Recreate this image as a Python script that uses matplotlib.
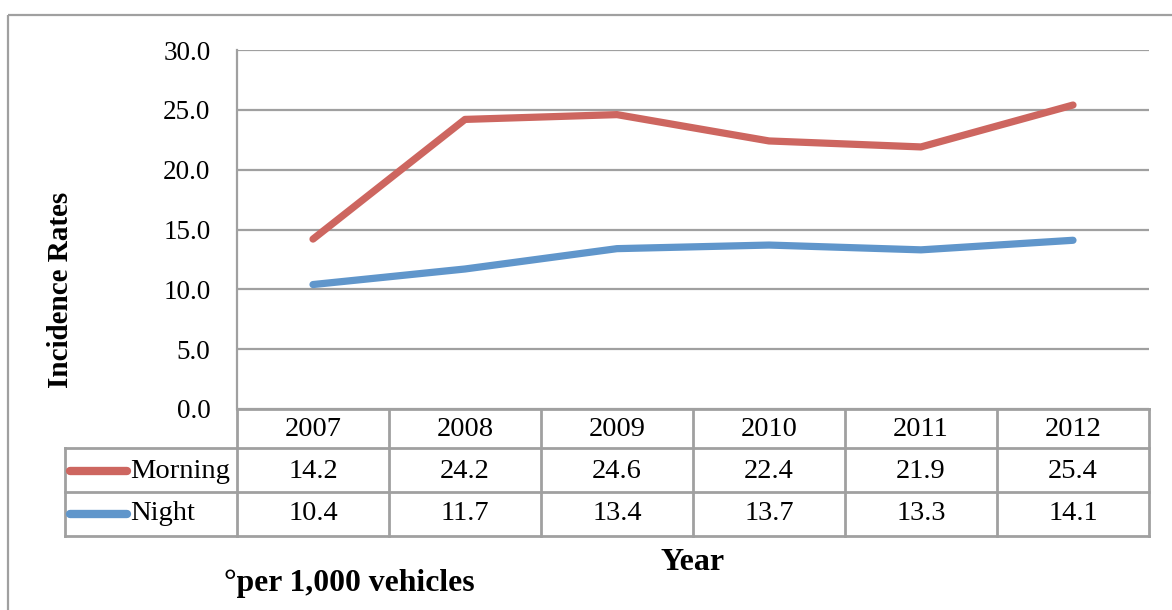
import matplotlib
matplotlib.use("Agg")
import matplotlib.pyplot as plt
from matplotlib import transforms
from matplotlib.lines import Line2D
from matplotlib.patches import Rectangle
import numpy as np

plt.rcParams['font.family'] = ['Liberation Serif', 'DejaVu Serif']

# Data
years = ["2007", "2008", "2009", "2010", "2011", "2012"]
morning = [14.2, 24.2, 24.6, 22.4, 21.9, 25.4]
night = [10.4, 11.7, 13.4, 13.7, 13.3, 14.1]
series_names = ["Morning", "Night"]
y_ticks = [0, 5, 10, 15, 20, 25, 30]

RED = "#CD6660"
BLUE = "#6096CB"
GRID = "#A0A0A0"
TICK_FS = 19.5
TABLE_FS = 20.5

W, H = 1172, 610
fig = plt.figure(figsize=(W / 100, H / 100), dpi=100)

# pixel coordinates measured from top-left of the figure
px = transforms.Affine2D().scale(1 / W, -1 / H).translate(0, 1) + fig.transFigure

left, right, top, bottom = 237, 1149, 50, 409
ax = fig.add_axes([left / W, 1 - bottom / H, (right - left) / W, (bottom - top) / H])

x = np.arange(len(years))
ax.set_xlim(-0.5, len(years) - 0.5)
ax.set_ylim(0, 30)

for vals, col in [(morning, RED), (night, BLUE)]:
    ax.plot(x, vals, color=col, lw=5.2, solid_capstyle='round',
            solid_joinstyle='round', zorder=3)

ax.set_yticks(y_ticks)
ax.set_yticklabels([f"{v:.1f}" for v in y_ticks], fontsize=TICK_FS)
ax.tick_params(axis='y', length=0, pad=19)
ax.set_xticks([])
ax.yaxis.grid(True, color=GRID, lw=1.6)
ax.set_axisbelow(True)
for s in ['top', 'right', 'bottom']:
    ax.spines[s].set_visible(False)
ax.spines['left'].set_color(GRID)
ax.spines['left'].set_linewidth(1.6)

# Data table below the plot
tx = transforms.blended_transform_factory(ax.transData, px)
row_lines = [409, 448, 492, 536]
row_centers = [430, 471, 514]
tbl_kw = dict(color=GRID, lw=2.0, clip_on=False, transform=tx)
x0, x1 = -0.5, len(years) - 0.5
for yy in row_lines:
    fig.add_artist(Line2D([x0, x1], [yy, yy], **tbl_kw))
for b in np.arange(len(years) + 1) - 0.5:
    fig.add_artist(Line2D([b, b], [409, 536], **tbl_kw))

leg_left = 64.5
for yy in row_lines[1:]:
    fig.add_artist(Line2D([leg_left, left], [yy, yy], color=GRID, lw=2.0, transform=px))
fig.add_artist(Line2D([leg_left, leg_left], [448, 536], color=GRID, lw=2.0, transform=px))

for xi, yr in zip(x, years):
    fig.text(xi, row_centers[0], yr, transform=tx, ha='center', va='center', fontsize=TABLE_FS)
for r, (name, vals, col) in enumerate(zip(series_names, [morning, night], [RED, BLUE])):
    yc = row_centers[r + 1]
    for xi, v in zip(x, vals):
        fig.text(xi, yc, f"{v:.1f}", transform=tx, ha='center', va='center', fontsize=TABLE_FS)
    fig.add_artist(Line2D([70, 127], [yc, yc], color=col, lw=6, solid_capstyle='round', transform=px))
    fig.text(130, yc, name, transform=px, ha='left', va='center', fontsize=TABLE_FS)

# Axis titles and note
fig.text(61, 290, "Incidence Rates", transform=px, rotation=90, ha='center', va='center',
         fontsize=21, fontweight='bold')
fig.text(693, 563, "Year", transform=px, ha='center', va='center', fontsize=23, fontweight='bold')
fig.text(224, 583, "°per 1,000 vehicles", transform=px, ha='left', va='center',
         fontsize=22.8, fontweight='bold')

# Chart area border
fig.add_artist(Rectangle((8, 15), 1300, 700, transform=px, fill=False, edgecolor=GRID, lw=1.6))

fig.savefig("out.png", dpi=100)
